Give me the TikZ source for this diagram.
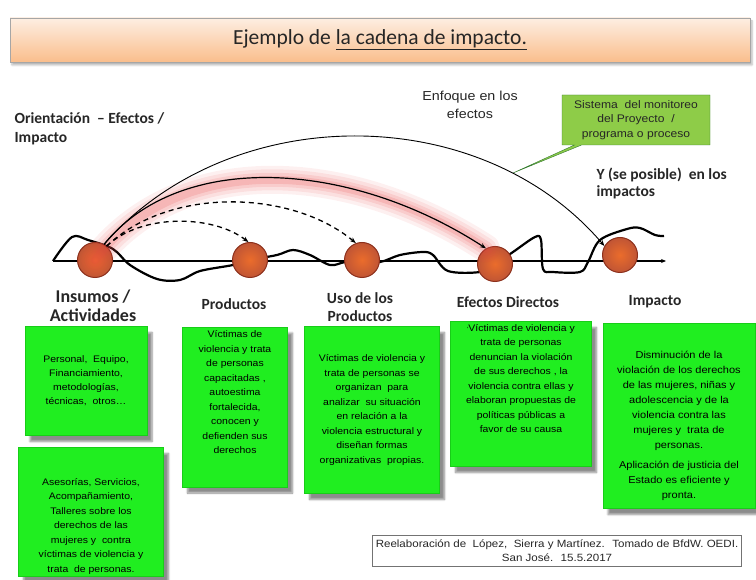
\documentclass[tikz,border=0pt]{standalone}
\usepackage{fontspec}
\setmainfont{Carlito}
\newfontfamily\arial[FakeStretch=1.1]{Liberation Sans}
\usetikzlibrary{arrows.meta,shadows,shadows.blur,shapes.callouts}
\definecolor{verde}{RGB}{32,238,32}
\definecolor{verdeborde}{RGB}{24,205,24}
\definecolor{verdecall}{RGB}{142,204,72}
\definecolor{naranja}{RGB}{226,100,62}
\definecolor{naranjaosc}{RGB}{140,48,28}
\definecolor{durazno1}{RGB}{253,238,226}
\definecolor{durazno2}{RGB}{250,190,140}
\definecolor{brillo}{RGB}{232,70,70}
\definecolor{texto}{RGB}{38,38,38}

\begin{document}
\begin{tikzpicture}[x=1pt,y=-1pt,
  hito/.style={circle,minimum size=35pt,inner sep=0pt,inner color=naranja!70!orange,outer color=naranja!85!black,draw=naranjaosc,line width=1pt},
  etiq/.style={font=\fontsize{15.5}{18}\selectfont\bfseries,text=texto,align=center},
  nota/.style={font=\fontsize{15.5}{19}\selectfont\bfseries,text=texto,align=left},
  caja/.style={fill=verde,draw=verdeborde,inner sep=0pt,align=center,font=\arial\fontsize{9.5}{14.5}\selectfont,
    blur shadow={shadow xshift=5pt,shadow yshift=-6pt,shadow blur steps=6,shadow opacity=45}},
  arco/.style={-{Stealth[length=6pt,width=4.5pt]},line width=0.9pt},
  trazo/.style={arco,dash pattern=on 5pt off 4pt,line width=1.3pt}]
\useasboundingbox (0,0) rectangle (756,580);

% titulo
\node[draw=black!35,top color=durazno1,bottom color=durazno2,minimum width=740pt,minimum height=44pt,
  blur shadow={shadow xshift=2pt,shadow yshift=-3pt,shadow opacity=30},
  font=\fontsize{21.5}{24}\selectfont,text=texto] (titulo) at (380,40) {Ejemplo de \underline{la cadena de impacto.}};

% textos de orientacion
\node[nota,anchor=west] (orient) at (11,129) {Orientación \ – Efectos /\\Impacto};
\node[font=\arial\fontsize{13}{18}\selectfont,text=texto,align=center] (enfoque) at (470,105) {Enfoque en los\\efectos};
\node[nota,anchor=west,font=\fontsize{15.5}{17}\selectfont\bfseries] (posible) at (593,183) {Y (se posible) \ en los\\impactos};
\node[rectangle callout,fill=verdecall,draw=black!55!green!60!gray,minimum width=148pt,minimum height=50pt,
  callout absolute pointer={(513,173)},font=\arial\fontsize{11}{14.5}\selectfont,text=texto,align=center,inner sep=1pt]
  (sistema) at (636,120) {Sistema \ del monitoreo\\del Proyecto \ /\\programa o proceso};

% linea de tiempo y trayectoria
\coordinate (ax0) at (53,261);
\coordinate (ax1) at (666,261);
\draw[line width=1.2pt,-{Stealth[length=5pt,width=4pt]}] (ax0) -- (ax1);
\draw[line width=2.2pt,line join=round] plot[smooth,tension=0.55] coordinates {
  (53,261) (72,237) (88,240) (113,249) (130,265) (157,279) (180,280) (200,271) (233,265)
  (250,260) (277,255) (293,250) (310,255) (330,265) (345,262) (362,260) (380,262)
  (400,255) (423,252) (433,255) (448,271) (480,272) (495,264) (513,252) (535,237)
  (541,240) (543,269) (553,272) (580,272) (588,262) (600,240) (627,229) (640,228)
  (655,235) (664,236)};

% hitos
\node[hito] (in) at (95,260) {};
\node[hito] (prod) at (250,260) {};
\node[hito] (uso) at (362,260) {};
\node[hito] (efd) at (495,264) {};
\node[hito] (imp) at (620,255) {};

% brillo rojo
\foreach \w/\o in {28/0.08,21/0.1,14/0.12,8/0.16}
  \draw[brillo,line width=\w pt,opacity=\o,line cap=round] (in.center) .. controls (180,150) and (350,160) .. (efd.120);

% arcos
\draw[arco] (in.60) .. controls (230,100) and (480,100) .. (imp.150);
\draw[arco,line width=1.2pt] (in.60) .. controls (180,150) and (350,160) .. (efd.120);
\draw[trazo] (in.50) .. controls (140,214) and (212,214) .. (prod.95);
\draw[trazo] (in.50) .. controls (170,186) and (292,190) .. (uso.110);

% etiquetas
\node[etiq,font=\fontsize{18}{19}\selectfont\bfseries] (l-in) at (93,306) {Insumos /\\Actividades};
\node[etiq] (l-prod) at (234,304) {Productos};
\node[etiq] (l-uso) at (360,307) {Uso de los\\Productos};
\node[etiq] (l-efd) at (508,302) {Efectos Directos};
\node[etiq] (l-imp) at (655,302) {Impacto};

% cajas
\node[caja,minimum width=122pt,minimum height=109pt,font=\arial\fontsize{9.5}{14}\selectfont] (c1) at (86,381)
  {Personal, \ Equipo,\\Financiamiento,\\metodologías,\\técnicas, \ otros…};
\node[caja,minimum width=145pt,minimum height=129pt] (c2) at (91,512)
  {\parbox[c][125pt][c]{142pt}{\centering\vspace*{28pt}Asesorías, Servicios,\\Acompañamiento,\\Talleres sobre los\\derechos de las\\mujeres y \ contra\\víctimas de violencia y\\trata \ de personas.}};
\node[caja,minimum width=105pt,minimum height=160pt] (c3) at (235,407)
  {\parbox[c][152pt][t]{102pt}{\centering Víctimas de\\violencia y trata\\de personas\\capacitadas ,\\autoestima\\fortalecida,\\conocen y\\defienden sus\\derechos}};
\node[caja,minimum width=135pt,minimum height=167pt] (c4) at (372,410)
  {Víctimas de violencia y\\trata de personas se\\organizan \ para\\analizar \ su situación\\en relación a la\\violencia estructural y\\diseñan formas\\organizativas \ propias.};
\node[caja,minimum width=141pt,minimum height=145pt] (c5) at (521,394)
  {\parbox[c][139pt][t]{139pt}{\centering {\fontsize{6}{6}\selectfont'}Víctimas de violencia y\\trata de personas\\denuncian la violación\\de sus derechos , la\\violencia contra ellas y\\elaboran propuestas de\\políticas públicas a\\favor de su causa}};
\node[caja,minimum width=152pt,minimum height=185pt,font=\arial\fontsize{10}{15}\selectfont] (c6) at (679,416)
  {\parbox[c][180pt][c]{150pt}{\centering\vspace*{20pt}Disminución de la\\violación de los derechos\\de las mujeres, niñas y\\adolescencia y de la\\violencia contra las\\mujeres y \ trata de\\personas.\\[5pt]Aplicación de justicia del\\Estado es eficiente y\\pronta.}};

% fuente
\node[draw=black!55,fill=white,minimum width=369pt,minimum height=31pt,font=\arial\fontsize{10.5}{14}\selectfont,
  text=texto,align=center,inner sep=1pt] (fuente) at (557,551)
  {Reelaboración de \ López, \ Sierra y Martínez. \ Tomado de BfdW. OEDI.\\San José. \ 15.5.2017};
\end{tikzpicture}
\end{document}
